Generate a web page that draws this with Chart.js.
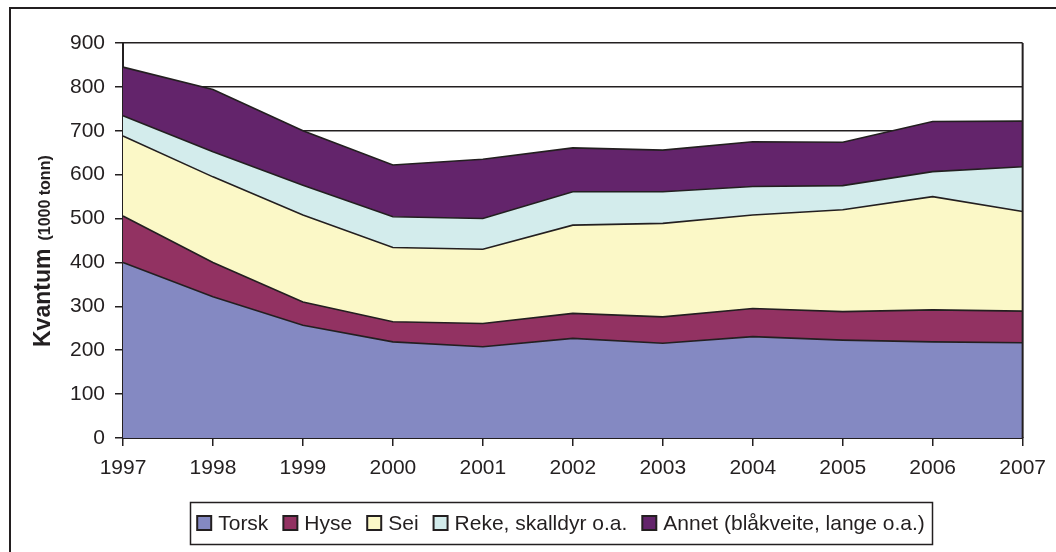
<!DOCTYPE html>
<html>
<head>
<meta charset="utf-8">
<script src="https://cdn.jsdelivr.net/npm/chart.js@4/dist/chart.umd.min.js"></script>
<style>
  html, body { margin: 0; padding: 0; background: #ffffff; }
  #wrap { width: 1056px; height: 552px; }
</style>
</head>
<body>
<div id="wrap"><canvas id="fishChart" width="1056" height="552"></canvas></div>
<script>
// Kvantum, 1000 tonn (lest av grafen)
const years = ["1997", "1998", "1999", "2000", "2001", "2002", "2003", "2004", "2005", "2006", "2007"];
const torsk = [400, 322, 257, 219, 208, 227, 216, 231, 223, 219, 217];
const hyse  = [106, 78, 53, 46, 53, 57, 60, 64, 65, 73, 72];
const sei   = [182, 195, 198, 169, 169, 201, 213, 213, 232, 258, 227];
const reke  = [46, 57, 68, 70, 70, 76, 72, 65, 55, 57, 102];
const annet = [111, 142, 124, 118, 135, 100, 95, 102, 99, 114, 104];

const seriesNames = ["Torsk", "Hyse", "Sei", "Reke, skalldyr o.a.", "Annet (blåkveite, lange o.a.)"];
const seriesColors = ["#8489C2", "#923262", "#FBF8C7", "#D3ECEC", "#63246B"];
const lineColor = "#231f20";
const fontFamily = "'Liberation Sans', Arial, sans-serif";

const seriesValues = [torsk, hyse, sei, reke, annet];

const datasets = seriesValues.map((vals, i) => ({
    label: seriesNames[i],
    data: vals,
    backgroundColor: seriesColors[i],
    borderColor: lineColor,
    borderWidth: 1.6,
    pointRadius: 0,
    tension: 0,
    fill: i === 0 ? "origin" : "-1"
}));

// ramme, høyre kant, y-tittel og legende
const extras = {
    id: "extras",
    afterDatasetsDraw(chart) {
        const ctx = chart.ctx;
        const area = chart.chartArea;
        ctx.save();
        ctx.strokeStyle = lineColor;
        ctx.lineWidth = 2;
        ctx.beginPath();
        ctx.moveTo(area.right, area.top);
        ctx.lineTo(area.right, area.bottom);
        ctx.stroke();
        ctx.restore();
    },
    afterDraw(chart) {
        const ctx = chart.ctx;
        ctx.save();

        // ytre ramme
        ctx.strokeStyle = lineColor;
        ctx.lineWidth = 2;
        ctx.beginPath();
        ctx.moveTo(10, 552);
        ctx.lineTo(10, 8);
        ctx.lineTo(1056, 8);
        ctx.stroke();

        // y-tittel
        ctx.fillStyle = lineColor;
        ctx.translate(50, 347);
        ctx.rotate(-Math.PI / 2);
        ctx.textBaseline = "alphabetic";
        ctx.textAlign = "left";
        ctx.font = "bold 23px " + fontFamily;
        ctx.fillText("Kvantum", 0, 0);
        const w = ctx.measureText("Kvantum").width + 8;
        ctx.font = "bold 16px " + fontFamily;
        ctx.fillText("(1000 tonn)", w, 0);
        ctx.setTransform(1, 0, 0, 1, 0, 0);

        // legende
        ctx.font = "21px " + fontFamily;
        const box = 14, gapText = 7, gapItem = 15;
        const widths = seriesNames.map(n => ctx.measureText(n).width);
        let total = 0;
        widths.forEach((tw, i) => {
            total += box + gapText + tw + (i < widths.length - 1 ? gapItem : 0);
        });
        const cx = 561, cy = 523;
        const pad = 7;
        let x = cx - total / 2;
        ctx.lineWidth = 1.5;
        ctx.strokeStyle = lineColor;
        ctx.strokeRect(Math.round(x - pad) + 0.5, 502.5, Math.round(total + pad * 2), 42);
        ctx.textBaseline = "middle";
        seriesNames.forEach((name, i) => {
            ctx.fillStyle = seriesColors[i];
            ctx.fillRect(x, cy - box / 2, box, box);
            ctx.lineWidth = 2;
            ctx.strokeRect(x, cy - box / 2, box, box);
            ctx.fillStyle = lineColor;
            ctx.fillText(name, x + box + gapText, cy + 1);
            x += box + gapText + widths[i] + gapItem;
        });
        ctx.restore();
    }
};

new Chart(document.getElementById("fishChart").getContext("2d"), {
    type: "line",
    data: {
        labels: years,
        datasets
    },
    options: {
        responsive: false,
        animation: false,
        layout: { padding: { top: 43, right: 32, left: 0, bottom: 0 } },
        plugins: {
            legend: { display: false },
            tooltip: { enabled: false }
        },
        scales: {
            x: {
                offset: false,
                grid: {
                    drawOnChartArea: false,
                    drawTicks: true,
                    tickLength: 8,
                    color: lineColor,
                    lineWidth: 1.5
                },
                border: { display: true, color: lineColor, width: 2 },
                ticks: {
                    color: lineColor,
                    font: { family: fontFamily, size: 21 },
                    padding: 10,
                    maxRotation: 0,
                    autoSkip: false
                },
                afterFit(scale) { scale.height = 114; }
            },
            y: {
                stacked: true,
                min: 0,
                max: 900,
                grid: {
                    color: lineColor,
                    lineWidth: 1.5,
                    tickLength: 8
                },
                border: { display: true, color: lineColor, width: 2 },
                ticks: {
                    stepSize: 100,
                    color: lineColor,
                    font: { family: fontFamily, size: 21 },
                    padding: 10
                },
                afterFit(scale) { scale.width = 123; }
            }
        }
    },
    plugins: [extras]
});
</script>
</body>
</html>
